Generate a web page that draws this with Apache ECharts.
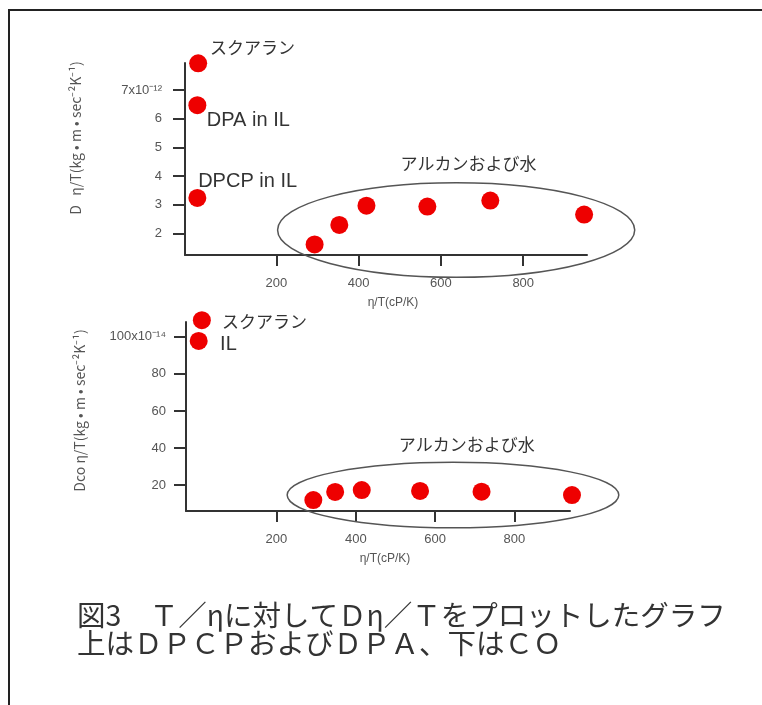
<!DOCTYPE html>
<html lang="ja">
<head>
<meta charset="UTF-8">
<title>図3</title>
<script src="https://cdn.jsdelivr.net/npm/echarts@6/dist/echarts.min.js"></script>
<style>
  html, body { margin: 0; padding: 0; background: #fff; }
  #chart { width: 762px; height: 705px; }
</style>
</head>
<body>
<div id="chart"></div>
<script>
// upper panel (DPCP / DPA), y in units of 1e-12
const topX = [10, 8, 8, 293, 353, 419, 567, 720, 948];
const topY = [7.94, 6.48, 3.24, 1.62, 2.30, 2.97, 2.94, 3.15, 2.66];
const topYTicks = [2, 3, 4, 5, 6, 7];
const topXTicks = [200, 400, 600, 800];

// lower panel (CO), y in units of 1e-14
const botX = [12, 4, 293, 348, 415, 562, 717, 945];
const botY = [109, 97.8, 11.9, 16.3, 17.3, 16.8, 16.4, 14.6];
const botYTicks = [20, 40, 60, 80, 100];
const botXTicks = [200, 400, 600, 800];

// annotations: [text, x, y, align] in data units of their panel
const topNotes = [
  ['スクアラン', 39, 8.5, 'left'],
  ['DPA in IL', 31, 5.95, 'left'],
  ['DPCP in IL', 10, 3.8, 'left'],
  ['アルカンおよび水', 667, 4.44, 'center']
];
const botNotes = [
  ['スクアラン', 63, 108.1, 'left'],
  ['IL', 58, 95.7, 'left'],
  ['アルカンおよび水', 680, 41.6, 'center']
];
// group ellipses: [cx, cy, rx, ry] in data units
const topEllipse = [637, 2.12, 434, 1.65];
const botEllipse = [645, 14.6, 418, 17.7];

const captionLines = [
  '図3　Ｔ／ηに対してＤη／Ｔをプロットしたグラフ',
  '上はＤＰＣＰおよびＤＰＡ、下はＣＯ'
];

const latin = '"Liberation Sans", Arial, sans-serif';
const cjk = '"Noto Sans CJK JP", "Liberation Sans", sans-serif';
const axisColor = '#333';

function xAxisOf(gi, min, max, ticks, padLeft) {
  return {
    type: 'value', gridIndex: gi, min: min, max: max,
    splitLine: { show: false },
    axisLine: { show: true, onZero: false, lineStyle: { color: axisColor, width: 2 } },
    axisTick: { show: true, length: 11, customValues: ticks, lineStyle: { color: axisColor, width: 2 } },
    axisLabel: { customValues: ticks, margin: 22, color: '#555', fontSize: 13, fontFamily: latin },
    name: 'η/T(cP/K)', nameLocation: 'middle', nameGap: 42,
    nameTextStyle: { color: '#555', fontSize: 12, fontFamily: latin, padding: [0, 0, 0, padLeft] }
  };
}

function yAxisOf(gi, min, max, ticks, top, name, gap, padLeft, margin) {
  return {
    type: 'value', gridIndex: gi, min: min, max: max,
    splitLine: { show: false },
    axisLine: { show: true, onZero: false, lineStyle: { color: axisColor, width: 2 } },
    axisTick: { show: true, length: 12, customValues: ticks, lineStyle: { color: axisColor, width: 2 } },
    axisLabel: {
      customValues: ticks, margin: margin, color: '#555', fontSize: 13, fontFamily: latin,
      formatter: v => (v === ticks[ticks.length - 1] ? top : String(v))
    },
    name: name, nameLocation: 'middle', nameRotate: 90, nameGap: gap,
    nameTextStyle: { color: '#555', fontSize: 14, fontFamily: cjk, padding: [0, 0, 0, padLeft] }
  };
}

const chart = echarts.init(document.getElementById('chart'));

chart.setOption({
  backgroundColor: '#fff',
  animation: false,
  grid: [
    { left: 185, top: 63, width: 402, height: 192, outerBoundsMode: 'none' },
    { left: 186, top: 322, width: 384, height: 189, outerBoundsMode: 'none' }
  ],
  xAxis: [
    xAxisOf(0, -22, 955, topXTicks, 14),
    xAxisOf(1, -28, 940, botXTicks, 14)
  ],
  yAxis: [
    yAxisOf(0, 1.25, 7.95, topYTicks, '7x10⁻¹²', 'D   η/T(kg • m • sec⁻²K⁻¹)', 102, 42, 23),
    yAxisOf(1, 6, 108, botYTicks, '100x10⁻¹⁴', 'Dco η/T(kg • m • sec⁻²K⁻¹)', 99, 12, 20)
  ],
  series: [
    {
      type: 'scatter', xAxisIndex: 0, yAxisIndex: 0, clip: false,
      symbolSize: 18, itemStyle: { color: '#ee0000', opacity: 1 },
      data: topX.map((x, i) => [x, topY[i]])
    },
    {
      type: 'scatter', xAxisIndex: 1, yAxisIndex: 1, clip: false,
      symbolSize: 18, itemStyle: { color: '#ee0000', opacity: 1 },
      data: botX.map((x, i) => [x, botY[i]])
    }
  ]
});

// annotations, ellipses, caption and frame placed through the axes' scales
function px(gi, p) {
  return chart.convertToPixel({ gridIndex: gi }, p);
}
function ellipseOf(gi, e) {
  const c = px(gi, [e[0], e[1]]);
  const rx = px(gi, [e[0] + e[2], e[1]])[0] - c[0];
  const ry = c[1] - px(gi, [e[0], e[1] + e[3]])[1];
  return {
    type: 'ellipse', shape: { cx: c[0], cy: c[1], rx: rx, ry: ry },
    style: { fill: 'none', stroke: '#555', lineWidth: 1.5 }, z: 10
  };
}
function notesOf(gi, notes) {
  return notes.map(n => {
    const p = px(gi, [n[1], n[2]]);
    const isLatin = /^[A-Za-z ]+$/.test(n[0]);
    return {
      type: 'text', x: p[0], y: p[1], z: 20,
      style: {
        text: n[0], fill: '#333', align: n[3], verticalAlign: 'middle',
        fontSize: isLatin ? 20 : 17, fontFamily: isLatin ? latin : cjk
      }
    };
  });
}

const graphics = [
  {
    type: 'polyline', z: 30,
    shape: { points: [[9, 705], [9, 10], [762, 10]] },
    style: { fill: 'none', stroke: '#222', lineWidth: 2 }
  },
  ellipseOf(0, topEllipse),
  ellipseOf(1, botEllipse)
].concat(notesOf(0, topNotes), notesOf(1, botNotes),
  captionLines.map((t, i) => ({
    type: 'text', x: 77, y: 615 + i * 28, z: 20,
    style: { text: t, fill: '#333', fontSize: 28.5, fontFamily: cjk, verticalAlign: 'middle' }
  })));

chart.setOption({ graphic: graphics });
</script>
</body>
</html>
